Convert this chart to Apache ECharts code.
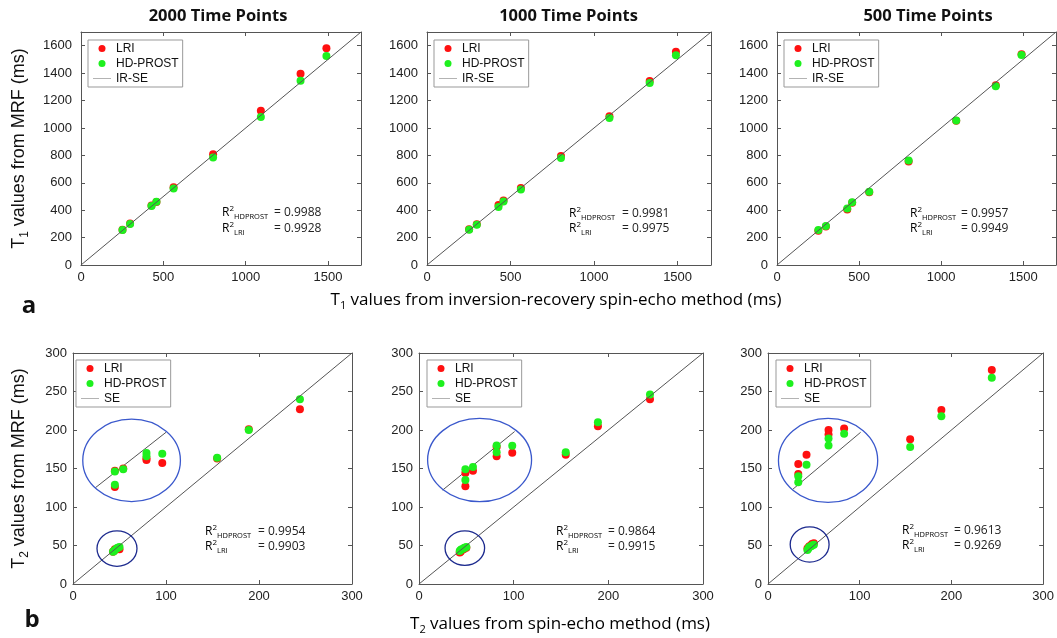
<!DOCTYPE html>
<html><head><meta charset="utf-8">
<script src="https://cdn.jsdelivr.net/npm/echarts@6/dist/echarts.min.js"></script>
<style>html,body{margin:0;padding:0;background:#fff}#c{width:1057px;height:638px}</style>
</head><body><div id="c"></div><script>
// ---------- DATA ----------
const titles = ['2000 Time Points', '1000 Time Points', '500 Time Points'];
// T1 (IR-SE reference) and MRF estimates
const t1Ref = [252, 298, 428, 458, 562, 802, 1092, 1333, 1490];
const a1Lri = [258, 302, 435, 460, 568, 808, 1125, 1395, 1582];
const a1Hd  = [255, 300, 430, 462, 558, 785, 1080, 1345, 1525];
const a2Lri = [260, 298, 438, 470, 562, 795, 1085, 1342, 1555];
const a2Hd  = [258, 294, 424, 464, 550, 780, 1072, 1328, 1530];
const a3Lri = [250, 280, 405, 455, 530, 755, 1052, 1312, 1538];
const a3Hd  = [255, 285, 412, 458, 535, 762, 1055, 1305, 1532];
// T2 (SE reference) and MRF estimates
const t2Ref = [43, 44, 45, 47, 48, 50, 155, 189, 244];
const b1Lri = [42, 43, 45, 45, 46, 45, 163, 201, 227];
const b1Hd  = [42, 43, 44, 46, 47, 48, 164, 200, 240];
const b2Lri = [41, 42, 44, 45, 46, 47, 168, 205, 240];
const b2Hd  = [43, 44, 45, 46, 47, 48, 171, 210, 246];
const b3Lri = [46, 47, 49, 50, 52, 53, 188, 226, 278];
const b3Hd  = [44, 46, 48, 49, 50, 51, 178, 218, 268];
// magnified insets (drawn in main-axis units)
const b1InsetRef = [45, 45, 54, 79, 79, 96];
const b1InsetLri = [147, 126, 150, 163, 161, 157];
const b1InsetHd  = [146, 129, 149, 170, 166, 169];
const b2InsetRef = [49, 49, 57, 82, 82, 98.5];
const b2InsetLri = [144, 127, 147, 178, 166, 170.5];
const b2InsetHd  = [149, 135, 152, 180, 171, 179.5];
const b3InsetRef = [33, 33, 42, 66, 66, 83];
const b3InsetLri = [156, 143, 168, 200, 194, 202];
const b3InsetHd  = [140, 132, 155, 189, 180, 195];
const b1InsetLine = [[24, 125], [100, 197]];
const b2InsetLine = [[25, 122], [101, 198]];
const b3InsetLine = [[27, 123], [101, 197]];
// ellipses [cx, cy, rx, ry] in axis units: big (inset), small (cluster)
const b1Ellipses = [[63, 160.5, 52.5, 53.5], [47.3, 46, 21.5, 23]];
const b2Ellipses = [[64, 161, 54.9, 54], [48.4, 46.6, 20.9, 22.4]];
const b3Ellipses = [[65.5, 160.5, 54.1, 54.6], [45.4, 51.4, 21.2, 22.9]];
// R^2 values [HDPROST, LRI]
const r2Values = [['0.9988', '0.9928'], ['0.9981', '0.9975'], ['0.9957', '0.9949'],
                  ['0.9954', '0.9903'], ['0.9864', '0.9915'], ['0.9613', '0.9269']];
const t1Identity = [0, 1700];
const t2Identity = [0, 300];

// ---------- LAYOUT ----------
const layout = [
  {left: 81, top: 32, width: 280, height: 233, legend: [88, 40], r2: [222, 274, 213, 229], title: 218},
  {left: 427, top: 32, width: 284, height: 233, legend: [434, 40], r2: [569, 622, 214, 229], title: 568.5},
  {left: 777, top: 32, width: 279, height: 233, legend: [784, 40], r2: [910, 961, 214, 229], title: 928},
  {left: 73, top: 353, width: 279, height: 231, legend: [76, 360], r2: [205, 258, 532, 547]},
  {left: 419, top: 353, width: 284, height: 231, legend: [427, 360], r2: [556, 608, 532, 547]},
  {left: 768, top: 353, width: 281, height: 231, legend: [776, 360], r2: [902, 954, 531, 546]}
];
const panels = [
  {ref: t1Ref, lri: a1Lri, hd: a1Hd, id: t1Identity, lineName: 'IR-SE'},
  {ref: t1Ref, lri: a2Lri, hd: a2Hd, id: t1Identity, lineName: 'IR-SE'},
  {ref: t1Ref, lri: a3Lri, hd: a3Hd, id: t1Identity, lineName: 'IR-SE'},
  {ref: t2Ref, lri: b1Lri, hd: b1Hd, id: t2Identity, lineName: 'SE',
   inset: {ref: b1InsetRef, lri: b1InsetLri, hd: b1InsetHd, line: b1InsetLine, ell: b1Ellipses}},
  {ref: t2Ref, lri: b2Lri, hd: b2Hd, id: t2Identity, lineName: 'SE',
   inset: {ref: b2InsetRef, lri: b2InsetLri, hd: b2InsetHd, line: b2InsetLine, ell: b2Ellipses}},
  {ref: t2Ref, lri: b3Lri, hd: b3Hd, id: t2Identity, lineName: 'SE',
   inset: {ref: b3InsetRef, lri: b3InsetLri, hd: b3InsetHd, line: b3InsetLine, ell: b3Ellipses}}
];

const RED = '#ff1010', GREEN = '#1ef01e', AX = '#555';
const HELV = "'Liberation Sans', Arial, sans-serif";
const CAL = "'Open Sans', sans-serif";
const grids = [], xAxes = [], yAxes = [], series = [], legends = [], graphics = [];
const ellColors = ['#3a58cc', '#1c2a8e'];
const LINE_ICON = 'path://M0,0 L40,0 L40,1 L0,1 Z';

panels.forEach((p, i) => {
  const L = layout[i];
  const isT1 = i < 3;
  const max = p.id[1];
  grids.push({left: L.left, top: L.top, width: L.width, height: L.height, containLabel: false});
  const common = {gridIndex: i, min: 0, max: max, splitLine: {show: false},
    axisLine: {show: true, onZero: false, lineStyle: {color: AX, width: 1}},
    axisTick: {show: true, inside: true, length: 4, lineStyle: {color: AX}}};
  const lblStyle = {color: '#222', fontFamily: HELV, fontSize: 13, formatter: v => String(v)};
  xAxes.push(Object.assign({}, common, {position: 'bottom', interval: isT1 ? 500 : 100,
    axisLabel: Object.assign({margin: 6, showMaxLabel: !isT1}, lblStyle)}));
  xAxes.push(Object.assign({}, common, {position: 'top', interval: isT1 ? 500 : 100, axisLabel: {show: false}}));
  const yMain = Object.assign({}, common, {position: 'left', interval: isT1 ? 200 : 50,
    axisLabel: Object.assign({margin: isT1 ? 9 : 6, showMaxLabel: !isT1}, lblStyle)});
  if (i === 0 || i === 3) {
    yMain.name = '{t|T}{s|' + (isT1 ? '1' : '2') + '}{t| values from MRF (ms)}';
    yMain.nameLocation = 'middle';
    yMain.nameGap = isT1 ? 50 : 42;
    yMain.nameTextStyle = {rich: {
      t: {fontFamily: HELV, fontSize: 18, color: '#111', lineHeight: 24},
      s: {fontFamily: HELV, fontSize: 12, color: '#111', lineHeight: 24, verticalAlign: 'bottom'}}};
  }
  yAxes.push(yMain);
  yAxes.push(Object.assign({}, common, {position: 'right', interval: isT1 ? 200 : 50, axisLabel: {show: false}}));
  const xi = 2 * i, yi = 2 * i;
  series.push({type: 'scatter', name: 'LRI', xAxisIndex: xi, yAxisIndex: yi, symbolSize: 8,
    itemStyle: {color: RED, opacity: 1}, z: 3, data: p.ref.map((x, j) => [x, p.lri[j]])});
  series.push({type: 'scatter', name: 'HD-PROST', xAxisIndex: xi, yAxisIndex: yi, symbolSize: 8,
    itemStyle: {color: GREEN, opacity: 1}, z: 4, data: p.ref.map((x, j) => [x, p.hd[j]])});
  series.push({type: 'line', name: p.lineName, xAxisIndex: xi, yAxisIndex: yi, symbol: 'none', showSymbol: false,
    lineStyle: {color: AX, width: 1}, itemStyle: {color: AX}, z: 5, silent: true,
    data: [[p.id[0], p.id[0]], [p.id[1], p.id[1]]]});
  if (p.inset) {
    const q = p.inset;
    series.push({type: 'line', name: 'inset', xAxisIndex: xi, yAxisIndex: yi, symbol: 'none',
      lineStyle: {color: AX, width: 1}, z: 2, silent: true, data: q.line});
    series.push({type: 'scatter', name: 'LRI', xAxisIndex: xi, yAxisIndex: yi, symbolSize: 8,
      itemStyle: {color: RED, opacity: 1}, z: 3, data: q.ref.map((x, j) => [x, q.lri[j]])});
    series.push({type: 'scatter', name: 'HD-PROST', xAxisIndex: xi, yAxisIndex: yi, symbolSize: 8,
      itemStyle: {color: GREEN, opacity: 1}, z: 4, data: q.ref.map((x, j) => [x, q.hd[j]])});
    series.push({type: 'custom', name: 'ellipse', xAxisIndex: xi, yAxisIndex: yi, z: 6, silent: true,
      data: q.ell,
      renderItem: (params, api) => {
        const c = api.coord([api.value(0), api.value(1)]);
        const s = api.size([api.value(2), api.value(3)]);
        return {type: 'ellipse', shape: {cx: c[0], cy: c[1], rx: s[0], ry: s[1]},
          style: {fill: 'none', stroke: ellColors[params.dataIndex], lineWidth: 1.3}};
      }});
  }
  legends.push({left: L.legend[0], top: L.legend[1], orient: 'vertical', itemGap: 0,
    itemWidth: 18, itemHeight: 7, padding: [1, 4, 1, 5], borderColor: '#999', borderWidth: 1,
    backgroundColor: '#fff', selectedMode: false, symbolKeepAspect: true,
    textStyle: {fontFamily: HELV, fontSize: 12, color: '#111', lineHeight: 15, padding: [0, 0, 0, 0]},
    data: [{name: 'LRI', icon: 'circle'}, {name: 'HD-PROST', icon: 'circle'},
           {name: p.lineName, icon: LINE_ICON, itemStyle: {color: AX}}]});
  // R^2 annotations
  const r2rich = {
    r: {fontFamily: CAL, fontSize: 12, color: '#222', lineHeight: 16},
    sup: {fontFamily: CAL, fontSize: 8, color: '#222', lineHeight: 16, verticalAlign: 'top'},
    sub: {fontFamily: CAL, fontSize: 7.5, color: '#222', lineHeight: 16, verticalAlign: 'bottom'}
  };
  const labels = ['{r|R}{sup|2}{sub|HDPROST}', '{r|R}{sup|2}{sub|LRI}'];
  [0, 1].forEach(k => {
    graphics.push({type: 'text', x: L.r2[0], y: L.r2[2 + k], style: {text: labels[k], rich: r2rich, verticalAlign: 'middle'}});
    graphics.push({type: 'text', x: L.r2[1], y: L.r2[2 + k], style: {text: '= ' + r2Values[i][k],
      fontFamily: CAL, fontSize: 12, fill: '#222', verticalAlign: 'middle'}});
  });
  if (L.title !== undefined) {
    graphics.push({type: 'text', x: L.title, y: 16, style: {text: titles[i], fontFamily: CAL,
      fontWeight: 'bold', fontSize: 16.5, fill: '#111', align: 'center', verticalAlign: 'middle'}});
  }
});

const xrich = {
  t: {fontFamily: CAL, fontSize: 17, color: '#111', lineHeight: 22},
  s: {fontFamily: CAL, fontSize: 11, color: '#111', lineHeight: 22, verticalAlign: 'bottom'}
};
graphics.push({type: 'text', x: 556, y: 300, style: {text: '{t|T}{s|1}{t| values from inversion-recovery spin-echo method (ms)}',
  rich: xrich, align: 'center', verticalAlign: 'middle'}});
graphics.push({type: 'text', x: 560, y: 624, style: {text: '{t|T}{s|2}{t| values from spin-echo method (ms)}',
  rich: xrich, align: 'center', verticalAlign: 'middle'}});
graphics.push({type: 'text', x: 29, y: 306, style: {text: 'a', fontFamily: CAL, fontWeight: 'bold', fontSize: 24,
  fill: '#111', align: 'center', verticalAlign: 'middle'}});
graphics.push({type: 'text', x: 32, y: 620, style: {text: 'b', fontFamily: CAL, fontWeight: 'bold', fontSize: 24,
  fill: '#111', align: 'center', verticalAlign: 'middle'}});

const chart = echarts.init(document.getElementById('c'), null, {renderer: 'canvas'});
chart.setOption({
  animation: false,
  backgroundColor: '#fff',
  grid: grids, xAxis: xAxes, yAxis: yAxes, series: series, legend: legends, graphic: graphics
});
</script></body></html>
